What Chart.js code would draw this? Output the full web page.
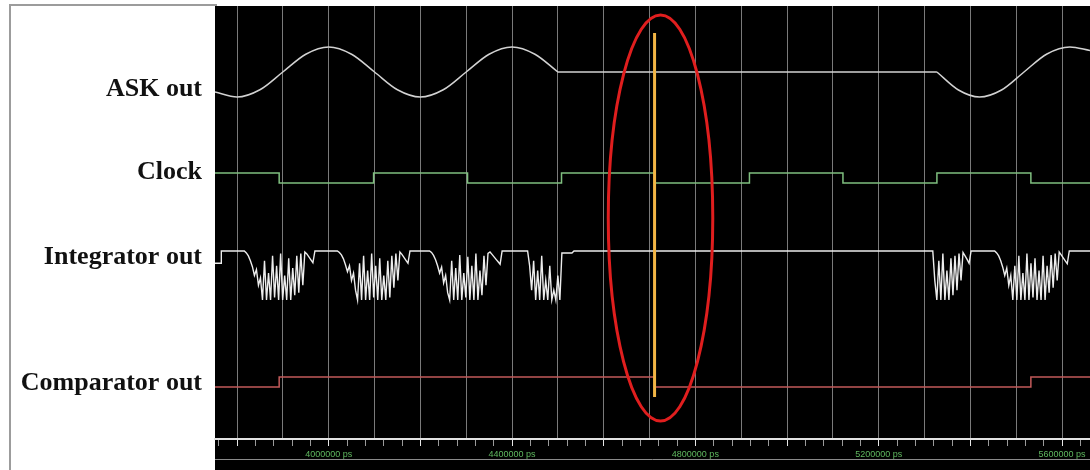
<!DOCTYPE html>
<html lang="en">
<head>
    <meta charset="UTF-8">
    <title>ASK demodulator waveforms</title>
    <script src="https://cdn.jsdelivr.net/npm/chart.js"></script>
    <style>
        html, body { margin: 0; padding: 0; background: #fff; }
        .wrap { position: relative; width: 1090px; height: 470px; }
        .panel-border {
            position: absolute; left: 9px; top: 4px; width: 206px; height: 466px;
            border-left: 2px solid #9c9c9c; border-top: 2px solid #9c9c9c;
        }
        canvas { position: relative; display: block; }
    </style>
</head>
<body>
<div class="wrap">
    <div class="panel-border"></div>
    <canvas id="wave" width="1090" height="470"></canvas>
</div>
<script>
// time window (ps)
const timeMin = 3752000;
const timeMax = 5661000;
const gridStep = 100000;
const minorStep = 40000;
const labelTimes = [4000000, 4400000, 4800000, 5200000, 5600000];
const tickLabels = ['4000000 ps', '4400000 ps', '4800000 ps', '5200000 ps', '5600000 ps'];

// signal names, row where each name sits
const laneNames = ['ASK out', 'Clock', 'Integrator out', 'Comparator out'];
const laneLabelRows = [83, 166, 251, 377];

// ASK out: normalised amplitude
const askTimes = [3752000, 3800000, 3850000, 3900000, 3950000, 4000000, 4050000, 4100000,
    4150000, 4200000, 4250000, 4300000, 4350000, 4400000, 4450000, 4500000,
    5327000, 5374000, 5420000, 5468000, 5517000, 5567000, 5617000, 5661000];
const askValues = [-0.8, -1, -0.71, 0, 0.71, 1, 0.71, 0,
    -0.71, -1, -0.71, 0, 0.71, 1, 0.71, 0,
    0, -0.72, -1, -0.72, 0, 0.72, 1, 0.86];
// where the carrier switches off / on (sharp corners)
const askKinks = [4500000, 5327000];

// Clock: level holds until the next time
const clockTimes = [3752000, 3892000, 4098000, 4303000, 4508000, 4711000, 4918000, 5122000, 5327000, 5532000, 5661000];
const clockLevels = [1, 0, 1, 0, 1, 0, 1, 0, 1, 0, 0];

// Comparator out
const compTimes = [3752000, 3892000, 4711000, 5532000, 5661000];
const compLevels = [0, 1, 0, 1, 1];

// Integrator out: depth below the rest level (0 = rest, 1 = floor)
const integLeadTimes = [3752000, 3765700, 3765800];
const integLeadDepth = [0.25, 0.25, 0];
const burstSample = 4400;
const burstStarts = [3816000, 4019000, 4220000, 4434000, 5318000, 5453000];
const burst1 = [0, 0.04, 0.1, 0.2, 0.32, 0.5, 0.38, 0.7, 0.55,
    1, 0.2, 1, 0.45, 1, 0.1, 0.95, 0.3, 1, 0.05, 1, 0.5, 1, 0.15, 1, 0.35,
    0.9, 0.1, 0.85, 0.05, 0.7,
    0.02, 0.06, 0.12, 0.18, 0.24, 0];
const burst2 = [0, 0.03, 0.08, 0.16, 0.28, 0.42, 0.3, 0.6, 0.45, 0.8,
    1, 0.25, 1, 0.1, 1, 0.4, 1, 0.05, 0.95, 0.3, 1, 0.15, 1, 0.5, 1, 0.2,
    0.95, 0.1, 0.75, 0.05, 0.6,
    0.02, 0.07, 0.13, 0.19, 0.25, 0];
const burst3 = [0, 0.03, 0.09, 0.18, 0.3, 0.45, 0.33, 0.65, 0.5, 0.85,
    1, 0.2, 1, 0.35, 1, 0.08, 1, 0.45, 0.95, 0.12, 1, 0.3, 1, 0.05, 1,
    0.4, 0.9, 0.1, 0.7, 0.05,
    0.02, 0.07, 0.12, 0.17, 0.22, 0.27, 0];
const burst4 = [0, 0.3, 0.8,
    0.2, 1, 0.4, 1, 0.1, 1, 0.6, 1, 0.3, 1, 0.8, 1, 0.5, 1,
    0.04, 0.04, 0.04, 0.04, 0.04, 0.04, 0];
const burst5 = [0, 0.6,
    1, 0.2, 1, 0.05, 1, 0.4, 1, 0.15,
    0.9, 0.1, 0.8, 0.05, 0.6,
    0.03, 0.1, 0.17, 0.25, 0];
const burst6 = [0, 0.04, 0.1, 0.2, 0.33, 0.5, 0.35, 0.7, 0.5,
    1, 0.3, 1, 0.1, 1, 0.45, 1, 0.05, 1, 0.25, 0.95, 0.15, 1, 0.4, 1, 0.1, 1, 0.3,
    0.85, 0.08, 0.75, 0.05, 0.6,
    0.02, 0.08, 0.14, 0.2, 0.26, 0];
const bursts = [burst1, burst2, burst3, burst4, burst5, burst6];

// cursor and the hand-drawn ring around it
const cursorTime = 4711000;
const ringTime = 4724000;
const ringHalfSpan = 114000;

// ---- layout (rows counted down from the top of the plot) ----
const rowMax = 433;
const lanes = {
    ask:   { base: 66,  amp: 25 },
    clock: { base: 177, amp: 10 },
    integ: { base: 245, amp: 49 },
    comp:  { base: 381, amp: 10 }
};
const cursorRows = [27, 391];
const ringRow = 212, ringHalfRows = 203;

const up = (lane, v) => lanes[lane].base - v * lanes[lane].amp;
const down = (lane, v) => lanes[lane].base + v * lanes[lane].amp;

// a null between two copies of a kink point keeps the spline from rounding it off
const askPts = [];
askTimes.forEach((t, i) => {
    const y = up('ask', askValues[i]);
    askPts.push({ x: t, y: y });
    if (askKinks.includes(t)) {
        askPts.push({ x: t, y: null });
        askPts.push({ x: t, y: y });
    }
});
const clockPts = clockTimes.map((t, i) => ({ x: t, y: up('clock', clockLevels[i]) }));
const compPts = compTimes.map((t, i) => ({ x: t, y: up('comp', compLevels[i]) }));

const integPts = integLeadTimes.map((t, i) => ({ x: t, y: down('integ', integLeadDepth[i]) }));
bursts.forEach((b, k) => {
    b.forEach((d, i) => integPts.push({ x: burstStarts[k] + i * burstSample, y: down('integ', d) }));
});
integPts.push({ x: timeMax, y: down('integ', 0) });

const cursorPts = cursorRows.map(r => ({ x: cursorTime, y: r }));

const gridTicks = [];
for (let t = Math.ceil(timeMin / gridStep) * gridStep; t <= timeMax; t += gridStep) gridTicks.push(t);
const minorTicks = [];
for (let t = Math.ceil(timeMin / minorStep) * minorStep; t <= timeMax; t += minorStep) minorTicks.push(t);

const noPadding = s => { s.paddingTop = 0; s.paddingBottom = 0; s.paddingLeft = 0; s.paddingRight = 0; };

const scopeBackground = {
    id: 'scopeBackground',
    beforeDraw(chart) {
        const { ctx, chartArea, width, height } = chart;
        ctx.save();
        ctx.fillStyle = '#000';
        ctx.fillRect(chartArea.left, chartArea.top, width - chartArea.left, height - chartArea.top);
        ctx.restore();
    },
    afterDatasetsDraw(chart) {
        const { ctx } = chart;
        const xs = chart.scales.x, ys = chart.scales.y;
        const cx = xs.getPixelForValue(ringTime);
        const rx = xs.getPixelForValue(ringTime + ringHalfSpan) - cx;
        const cy = ys.getPixelForValue(ringRow);
        const ry = Math.abs(ys.getPixelForValue(ringRow + ringHalfRows) - cy);
        ctx.save();
        ctx.strokeStyle = '#e01e1e';
        ctx.lineWidth = 3;
        ctx.beginPath();
        ctx.ellipse(cx, cy, rx, ry, 0, 0, Math.PI * 2);
        ctx.stroke();
        ctx.restore();
    },
    afterDraw(chart) {
        // thin rule under the time labels
        const { ctx, chartArea } = chart;
        const y = Math.round(chart.scales.x.top + 12) + 0.5;
        ctx.save();
        ctx.strokeStyle = '#8a8a8a';
        ctx.lineWidth = 1;
        ctx.beginPath();
        ctx.moveTo(chartArea.left, y);
        ctx.lineTo(chart.width, y);
        ctx.stroke();
        ctx.restore();
    }
};

new Chart(document.getElementById('wave'), {
    type: 'line',
    data: {
        datasets: [
            { label: 'cursor', data: cursorPts, borderColor: '#f2b545', borderWidth: 3, order: -1 },
            { label: 'ASK out', data: askPts, borderColor: '#d2d2d2', borderWidth: 1.5, cubicInterpolationMode: 'monotone', spanGaps: false },
            { label: 'Clock', data: clockPts, borderColor: '#7fbf7f', borderWidth: 1.5, stepped: true },
            { label: 'Integrator out', data: integPts, borderColor: '#ededed', borderWidth: 1.4 },
            { label: 'Comparator out', data: compPts, borderColor: '#c25a5a', borderWidth: 1.5, stepped: true }
        ]
    },
    options: {
        responsive: false,
        devicePixelRatio: 1,
        animation: false,
        layout: { padding: { top: 6, left: 0, right: 0, bottom: 0 } },
        elements: { point: { radius: 0 }, line: { tension: 0 } },
        plugins: { legend: { display: false }, tooltip: { enabled: false } },
        scales: {
            x: {
                type: 'linear', position: 'bottom', weight: 1,
                min: timeMin, max: timeMax,
                afterBuildTicks: s => { s.ticks = gridTicks.map(v => ({ value: v })); },
                afterFit: s => { s.height = 23; noPadding(s); },
                grid: { color: '#7a7a7a', lineWidth: 1, drawTicks: false },
                border: { display: false },
                ticks: {
                    autoSkip: false, maxRotation: 0, padding: 2,
                    color: '#5fb85f',
                    font: { family: '"Liberation Sans", Arial, sans-serif', size: 9 },
                    callback: v => {
                        const i = labelTimes.indexOf(v);
                        return i >= 0 ? tickLabels[i] : '';
                    }
                }
            },
            x2: {
                type: 'linear', position: 'bottom', weight: 0,
                min: timeMin, max: timeMax,
                afterBuildTicks: s => { s.ticks = minorTicks.map(v => ({ value: v })); },
                afterFit: s => { s.height = 8; noPadding(s); },
                grid: {
                    drawOnChartArea: false, drawTicks: true, tickLength: 7,
                    tickColor: c => (c.tick && c.tick.value % 200000 === 0 ? '#e6e6e6' : '#9a9a9a')
                },
                border: { display: true, color: '#e2e2e2', width: 2 },
                ticks: { display: false, autoSkip: false }
            },
            y: {
                type: 'linear', position: 'left',
                min: 0, max: rowMax, reverse: true,
                afterBuildTicks: s => { s.ticks = laneLabelRows.map(v => ({ value: v })); },
                afterFit: s => { s.width = 215; noPadding(s); },
                grid: { display: false, drawTicks: false },
                border: { display: false },
                ticks: {
                    padding: 13,
                    color: '#111',
                    font: { family: '"Liberation Serif", "Times New Roman", serif', size: 26, weight: 'bold' },
                    callback: (v, i) => laneNames[i]
                }
            }
        }
    },
    plugins: [scopeBackground]
});
</script>
</body>
</html>
